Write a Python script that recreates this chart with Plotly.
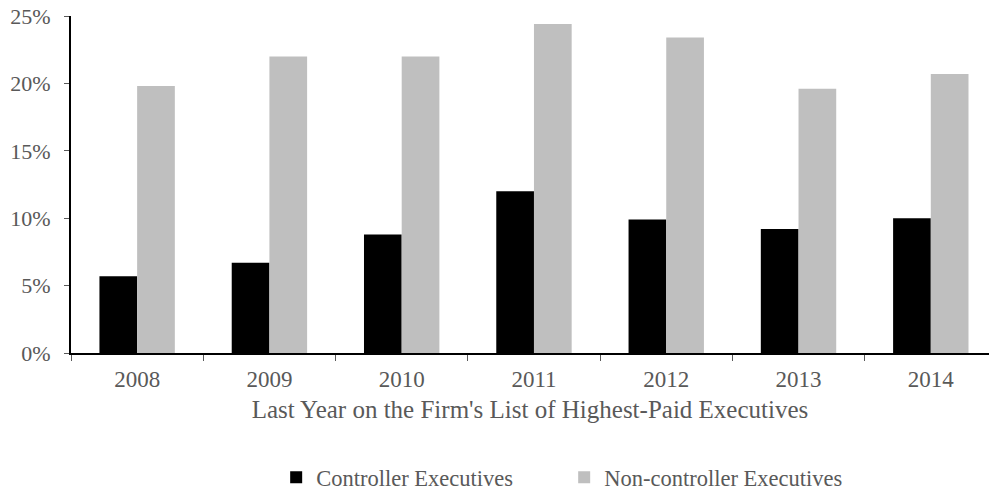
import plotly.graph_objects as go

years = ["2008", "2009", "2010", "2011", "2012", "2013", "2014"]
controller = [5.7, 6.7, 8.8, 12.0, 9.9, 9.2, 10.0]
non_controller = [19.8, 22.0, 22.0, 24.4, 23.4, 19.6, 20.7]
y_ticks = [0, 5, 10, 15, 20, 25]
y_tick_labels = ["0%", "5%", "10%", "15%", "20%", "25%"]

font_family = "Liberation Serif"
text_color = "#595959"

fig = go.Figure()
fig.add_trace(go.Bar(x=years, y=controller, name="Controller Executives",
                     marker=dict(color="#000000", line=dict(width=0))))
fig.add_trace(go.Bar(x=years, y=non_controller, name="Non-controller Executives",
                     marker=dict(color="#bfbfbf", line=dict(width=0))))

fig.update_layout(
    width=989, height=491,
    margin=dict(l=71, r=0, t=16, b=138, autoexpand=False),
    paper_bgcolor="white", plot_bgcolor="white",
    barmode="group", bargap=0.43, bargroupgap=0,
    font=dict(family=font_family, color=text_color, size=23),
    legend=dict(orientation="h", x=0.2235, xanchor="left", y=-0.37, yanchor="middle",
                font=dict(size=22.5, color=text_color), entrywidth=243,
                itemwidth=30, traceorder="normal"),
    showlegend=True,
)
fig.update_xaxes(
    type="category", range=[-0.5, 6.44], automargin=False,
    showline=True, linecolor="black", linewidth=2,
    ticks="outside", tickson="boundaries", ticklen=6, tickcolor="#595959", tickwidth=1,
    showgrid=False, tickfont=dict(size=23, color=text_color),
    ticklabelstandoff=4,
    title=dict(text="Last Year on the Firm's List of Highest-Paid Executives",
               font=dict(size=25, color=text_color), standoff=10),
)
fig.update_yaxes(
    range=[0, 25], tickvals=y_ticks, ticktext=y_tick_labels, automargin=False,
    showline=True, linecolor="black", linewidth=2,
    ticks="outside", ticklen=5, tickcolor="#595959", tickwidth=1,
    showgrid=False, zeroline=False, tickfont=dict(size=22, color=text_color),
    ticklabelstandoff=9,
)

fig.write_html("out.html",
               config={"displayModeBar": False},
               post_script="document.body.style.margin='0';document.body.style.overflow='hidden';")
